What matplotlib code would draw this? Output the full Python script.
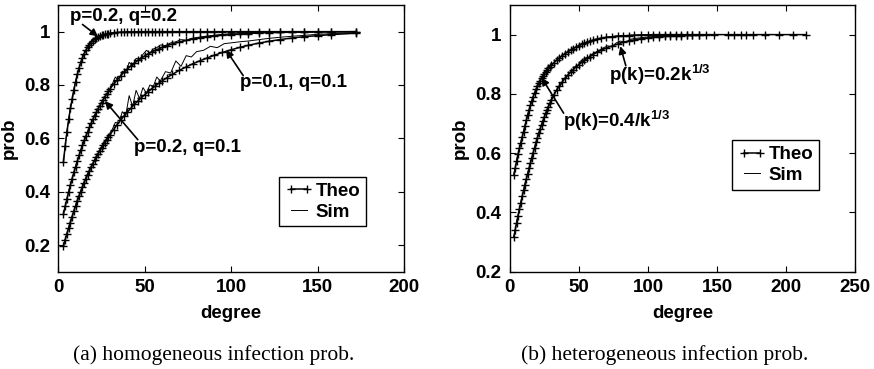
import matplotlib
matplotlib.use('Agg')
import matplotlib.pyplot as plt

plt.rcParams['font.family'] = ['Liberation Sans', 'DejaVu Sans']
plt.rcParams['font.weight'] = 'bold'
plt.rcParams['mathtext.fontset'] = 'custom'
plt.rcParams['mathtext.rm'] = 'Liberation Sans:bold'
plt.rcParams['mathtext.bf'] = 'Liberation Sans:bold'

# ---- (a) homogeneous infection prob. ----
deg_l = [3, 4, 5, 6, 7, 8, 9, 10, 11, 12, 13, 14, 15, 16, 17, 18, 19, 20, 21, 22, 23, 24, 25, 26, 27, 28, 29, 30,
         32, 34, 36, 38, 40, 42, 44, 46, 48, 50, 52, 54, 56, 58, 60,
         63, 66, 70, 74, 78, 82, 86, 90, 95, 100, 105, 110, 116, 122, 128, 135, 142, 150, 158, 172]

theo_pq22 = [.513, .573, .625, .671, .712, .747, .782, .813, .840, .864, .885, .903, .918, .931, .942, .951, .959, .966,
             .971, .976, .980, .983, .986, .988, .990, .992, .993, .994,
             .996, .997, .998, .998, .999, .999, .999, 1, 1, 1, 1, 1, 1, 1, 1,
             1, 1, 1, 1, 1, 1, 1, 1, 1, 1, 1, 1, 1, 1, 1, 1, 1, 1, 1, 1]
theo_pq21 = [.317, .346, .373, .400, .425, .449, .472, .494, .515, .536, .555, .574, .592, .609, .625, .641, .656, .671,
             .685, .698, .710, .723, .734, .745, .756, .766, .776, .786,
             .803, .819, .834, .848, .860, .872, .882, .892, .901, .909, .917, .923, .930, .935, .941,
             .948, .954, .961, .967, .973, .977, .981, .984, .987, .989, .991, .993, .995, .996, .997, .998, .998, .999,
             .999, 1.0]
theo_pq11 = [.198, .220, .242, .263, .284, .305, .326, .346, .365, .383, .400, .417, .433, .449, .463, .477, .491, .504,
             .517, .529, .541, .552, .563, .574, .584, .594, .604, .614,
             .633, .651, .668, .684, .699, .713, .727, .740, .752, .764, .775, .786, .796, .806, .815,
             .828, .840, .855, .868, .880, .891, .901, .911, .922, .932, .941, .949, .957, .964, .970, .976, .981, .985,
             .989, .994]

sim_deg_l = [3, 5, 7, 9, 11, 13, 15, 17, 19, 21, 23, 25, 27, 29, 31, 33, 35, 37, 39, 41, 43, 45, 47, 49, 51, 53, 55,
             57, 59, 62, 65, 68, 71, 74, 77, 80, 84, 88, 92, 96, 100, 105, 110, 116, 122, 130, 140, 150, 160, 170]
sim_pq22 = [.513, .625, .712, .782, .840, .885, .918, .942, .959, .971, .980, .986, .990, .993, .995, .996, .997, .998,
            .999, .999, .999, 1, 1, 1, 1, 1, 1, 1, 1, 1, 1, 1, 1, 1, 1, 1, 1, 1, 1, 1, 1, 1, 1, 1, 1, 1, 1, 1, 1, 1]
sim_pq21 = [.317, .373, .425, .472, .515, .555, .592, .625, .656, .685, .712, .732, .758, .774, .800, .830, .815, .852,
            .845, .885, .870, .900, .895, .915, .930, .920, .935, .940, .950, .948, .958, .962, .970, .968, .975, .978,
            .982, .985, .988, .990, .993, .995, .996, .997, .998, .999, .999, 1.0, 1.0, 1.0]
sim_pq11 = [.200, .245, .290, .330, .370, .405, .440, .470, .495, .520, .545, .570, .590, .610, .630, .660, .655, .700,
            .685, .760, .720, .780, .750, .790, .770, .800, .795, .830, .815, .850, .845, .890, .870, .910, .905, .925,
            .930, .945, .940, .955, .958, .962, .965, .970, .975, .980, .985, .990, .993, .996]

# ---- (b) heterogeneous infection prob. ----
deg_r1 = [3, 4, 5, 6, 7, 8, 9, 10, 11, 12, 13, 14, 15, 16, 17, 18, 19, 20, 21, 22, 23, 24, 25, 26, 27, 28, 29, 30,
          32, 34, 36, 38, 40, 42, 44, 46, 48, 50, 52, 54, 56, 58, 60,
          63, 66, 70, 74, 78, 82, 86, 90, 95, 100, 104, 108, 112, 116, 120, 124, 128, 132, 137,
          142, 148, 158, 162, 167, 171, 176, 185, 195, 205, 214]
theo_inv = [.527, .550, .574, .597, .616, .635, .654, .673, .692, .711, .729, .746, .762, .777, .791, .804, .815, .826,
            .836, .845, .853, .860, .867, .874, .880, .886, .891, .896,
            .905, .914, .922, .929, .936, .942, .948, .953, .958, .963, .967, .971, .975, .978, .981,
            .985, .988, .991, .993, .995, .996, .997, .998, .999, .999, 1, 1, 1, 1, 1, 1, 1, 1, 1,
            1, 1, 1, 1, 1, 1, 1, 1, 1, 1, 1]
deg_r2 = [3, 4, 5, 6, 7, 8, 9, 10, 11, 12, 13, 14, 15, 16, 17, 18, 19, 20, 21, 22, 23, 24, 25, 26, 27, 28, 29, 30,
          32, 34, 36, 38, 40, 42, 44, 46, 48, 50, 52, 54, 56, 58, 60,
          63, 66, 70, 74, 78, 82, 86, 90, 95, 100, 104, 108, 112, 116, 120, 124, 128, 132, 137]
theo_pow = [.317, .342, .366, .389, .411, .433, .454, .474, .494, .513, .531, .549, .567, .585, .602, .619, .636, .652,
            .667, .682, .696, .709, .722, .734, .746, .757, .768, .778,
            .797, .813, .827, .840, .852, .863, .873, .882, .891, .899, .906, .913, .920, .926, .932,
            .940, .947, .955, .962, .968, .974, .978, .982, .986, .989, .991, .993, .994, .995, .996, .997, .998, .998,
            .999]

sim_deg_r = [3, 5, 7, 9, 11, 13, 15, 17, 19, 21, 23, 25, 27, 29, 31, 33, 35, 37, 39, 41, 43, 45, 47, 49, 51, 53, 55,
             57, 59, 62, 65, 68, 71, 74, 77, 80, 84, 88, 92, 96, 100, 105, 110, 116, 122, 130, 137]
sim_inv = [.527, .574, .616, .654, .692, .729, .762, .791, .815, .836, .853, .867, .880, .891, .901, .910, .918, .926,
           .933, .939, .945, .951, .956, .960, .965, .969, .973, .976, .980, .984, .987, .990, .992, .993, .995, .996,
           .997, .998, .998, .999, .999, 1, 1, 1, 1, 1, 1]
sim_pow = [.317, .366, .411, .454, .494, .531, .567, .602, .636, .667, .696, .722, .746, .768, .788, .805, .825, .830,
           .852, .855, .872, .875, .892, .893, .908, .912, .922, .921, .933, .940, .948, .956, .962, .958, .972, .978,
           .975, .985, .988, .990, .992, .993, .995, .996, .997, .998, .999]

fig = plt.figure(figsize=(8.74, 3.69), dpi=100)
ax1 = fig.add_axes([0.0667, 0.2637, 0.3955, 0.7228])
ax2 = fig.add_axes([0.5832, 0.2637, 0.3954, 0.7228])

theo_kw = dict(color='k', lw=1.1, marker='+', ms=6, mew=1.0)
sim_kw = dict(color='k', lw=0.7)
fs = 13.5

# Left panel
ax1.plot(deg_l, theo_pq22, label='Theo', **theo_kw)
ax1.plot(deg_l, theo_pq21, **theo_kw)
ax1.plot(deg_l, theo_pq11, **theo_kw)
ax1.plot(sim_deg_l, sim_pq22, label='Sim', **sim_kw)
ax1.plot(sim_deg_l, sim_pq21, **sim_kw)
ax1.plot(sim_deg_l, sim_pq11, **sim_kw)
ax1.set_xlim(0, 200)
ax1.set_ylim(0.1, 1.1)
ax1.set_xticks([0, 50, 100, 150, 200])
ax1.set_yticks([0.2, 0.4, 0.6, 0.8, 1.0])
ax1.set_yticklabels(['0.2', '0.4', '0.6', '0.8', '1'])

# Right panel
ax2.plot(deg_r1, theo_inv, label='Theo', **theo_kw)
ax2.plot(deg_r2, theo_pow, **theo_kw)
ax2.plot(sim_deg_r, sim_inv, label='Sim', **sim_kw)
ax2.plot(sim_deg_r, sim_pow, **sim_kw)
ax2.set_xlim(0, 250)
ax2.set_ylim(0.2, 1.1)
ax2.set_xticks([0, 50, 100, 150, 200, 250])
ax2.set_yticks([0.2, 0.4, 0.6, 0.8, 1.0])
ax2.set_yticklabels(['0.2', '0.4', '0.6', '0.8', '1'])

# labels and arrows
arrow = dict(arrowstyle='-|>', color='k', lw=1.2, mutation_scale=11, shrinkA=0, shrinkB=0)

ax1.text(6.5, 1.058, 'p=0.2, q=0.2', va='center', fontsize=fs, fontweight='bold')
ax1.annotate('', xy=(23, 0.982), xytext=(14, 1.027), arrowprops=arrow)
ax1.text(105, 0.81, 'p=0.1, q=0.1', va='center', fontsize=fs, fontweight='bold')
ax1.annotate('', xy=(97, 0.932), xytext=(107, 0.835), arrowprops=arrow)
ax1.text(44, 0.567, 'p=0.2, q=0.1', va='center', fontsize=fs, fontweight='bold')
ax1.annotate('', xy=(27, 0.74), xytext=(46, 0.595), arrowprops=arrow)

ax2.text(72, 0.865, r'p(k)=0.2k$^{1/3}$', va='center', fontsize=fs, fontweight='bold')
ax2.annotate('', xy=(80, 0.961), xytext=(84, 0.895), arrowprops=arrow)
ax2.text(38.5, 0.71, r'p(k)=0.4/k$^{1/3}$', va='center', fontsize=fs, fontweight='bold')
ax2.annotate('', xy=(23, 0.855), xytext=(39, 0.735), arrowprops=arrow)

for ax, anchor in [(ax1, (0.765, 0.262)), (ax2, (0.77, 0.40))]:
    ax.set_xlabel('degree', fontsize=fs, fontweight='bold')
    ax.set_ylabel('prob', fontsize=fs, fontweight='bold')
    ax.xaxis.set_label_coords(0.5, -0.125)
    ax.yaxis.set_label_coords(-0.117, 0.5)
    ax.tick_params(direction='in', top=True, right=True, labelsize=fs, length=4, width=0.8)
    ax.tick_params(axis='x', pad=5)
    ax.tick_params(axis='y', pad=6)
    for s in ax.spines.values():
        s.set_linewidth(1.0)
    leg = ax.legend(loc='center', bbox_to_anchor=anchor, fontsize=fs, frameon=True, fancybox=False,
                    edgecolor='k', framealpha=1, numpoints=2, handlelength=1.5, handletextpad=0.15,
                    borderpad=0.3, labelspacing=0.2, borderaxespad=0)
    leg.get_frame().set_linewidth(1.0)
    for t in leg.get_texts():
        t.set_fontweight('bold')

fig.text(214 / 874, 1 - 355 / 369, '(a) homogeneous infection prob.', ha='center', va='center',
         family='Liberation Serif', fontweight='normal', fontsize=15.5)
fig.text(665 / 874, 1 - 355 / 369, '(b) heterogeneous infection prob.', ha='center', va='center',
         family='Liberation Serif', fontweight='normal', fontsize=15.5)

fig.savefig('out.png', dpi=100)
